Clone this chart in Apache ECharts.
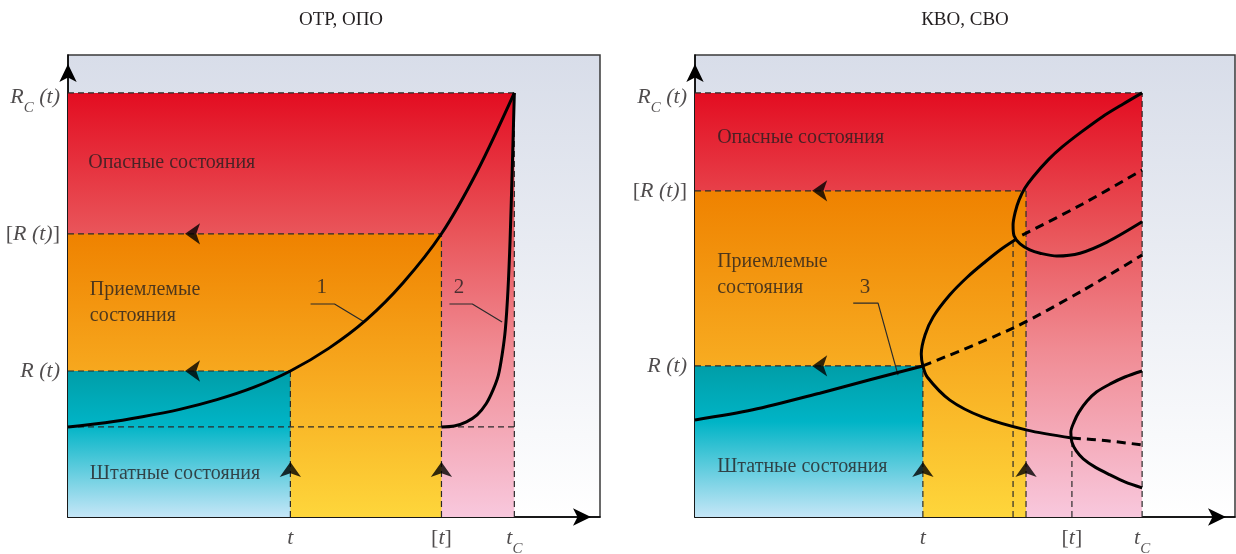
<!DOCTYPE html>
<html>
<head>
<meta charset="utf-8">
<script src="https://cdn.jsdelivr.net/npm/echarts@6/dist/echarts.min.js"></script>
<style>
  html, body { margin: 0; padding: 0; background: #fff; }
  #chart { width: 1236px; height: 554px; }
</style>
</head>
<body>
<div id="chart"></div>
<script>
const titles = ['ОТР, ОПО', 'КВО, СВО']

// levels on the R axis: R_C(t), [R(t)], R(t), start level
const levelsLeft = [91.8, 61.3, 31.6, 19.5]
const levelsRight = [91.8, 70.6, 32.7]
// moments: t, [t], t_C
const timesLeft = [41.8, 70.2, 83.9]
// t, fold, fold edge, [t], t_C
const timesRight = [42.2, 58.9, 61.3, 69.8, 82.8]

// left panel curves
const curve1 = [[0, 19.5], [7, 20.4], [14, 21.7], [21, 23.3], [28, 25.4], [35, 28.1], [41.8, 31.6], [49, 36.5], [56, 42.6], [63, 50.7], [70.2, 61.3], [77, 75], [83.9, 91.8]]
const curve2 = [[70.2, 19.5], [72.6, 19.7], [74.9, 20.6], [76.9, 22.1], [78.6, 24.5], [79.9, 27.5], [80.9, 30.7], [81.6, 35.1], [82.2, 40.5], [82.7, 49.1], [83.1, 60], [83.5, 75.1], [83.9, 91.8]]

// right panel curves
const curve3 = [[0, 21], [10.7, 23.2], [23.1, 26.8], [32.4, 29.7], [42.2, 32.7]]
const fold1 = [[69.8, 17.1], [61.5, 18.8], [53.3, 21.6], [47.2, 25.3], [43, 30.3], [42.2, 32.7], [41.9, 35.3], [42.6, 39.4], [44.1, 43.3], [47.2, 48.1], [50.4, 51.9], [53.7, 55.2], [56.5, 57.8], [59.3, 60]]
const fold2 = [[82.8, 91.8], [79.3, 89.4], [75.4, 86.6], [71.5, 83.3], [68, 80.1], [65.4, 77.3], [62.6, 73.6], [61.1, 71.2], [60, 68.6], [59.3, 66], [58.9, 63.2], [59.1, 60.8], [60.2, 59.1], [62, 57.8], [63.9, 57.1], [67, 56.5], [71.3, 57.1], [76.3, 59.5], [82.8, 63.9]]
const fold3 = [[82.8, 31.6], [79.6, 30.3], [76.9, 28.8], [74.4, 27.1], [72.6, 25.1], [71.1, 22.7], [70.2, 20.6], [69.6, 18.4], [69.8, 16.2], [70.6, 14.3], [71.9, 12.6], [74.1, 10.8], [76.9, 9.1], [79.6, 7.6], [82.8, 6.3]]
const unstable1 = [[42.2, 32.7], [58.9, 40.9], [71.9, 49.1], [82.8, 56.7]]
const unstable2 = [[60.6, 61], [71.7, 67.7], [82.8, 75.1]]
const unstable3 = [[69.8, 17.1], [76.3, 16.5], [82.8, 15.6]]

// callouts 1, 2, 3
const lead1 = [[45.6, 46.1], [50.1, 46.1], [55.7, 42.2]]
const lead2 = [[71.7, 46.1], [76, 46.1], [81.6, 42.2]]
const lead3 = [[29.3, 46.3], [33.9, 46.3], [37.6, 30.7]]
const calloutsLeft = [['1', 47.7, 49.6], ['2', 73.5, 49.6]]
const calloutsRight = [['3', 31.5, 49.6]]

const zoneNames = ['Опасные состояния', 'Приемлемые\nсостояния', 'Штатные состояния']
const zoneTextLeft = [[3.8, 76.6], [4.1, 46.3], [4.1, 9.3]]
const zoneTextRight = [[4.1, 82], [4.1, 52.4], [4.1, 10.8]]

const yLabels = ['{i|R}{s|C}{i| (t)}', '{r|[}{i|R (t)}{r|]}', '{i|R (t)}']
const xLabels = ['{i|t}', '{r|[}{i|t}{r|]}', '{i|t}{s|C}']

const G = echarts.graphic
const serif = 'Liberation Serif'
const ink = '#231f20'

const fills = [
  new G.LinearGradient(0, 0, 0, 1, [
    { offset: 0, color: '#e30d21' }, { offset: 0.33, color: '#e9555a' },
    { offset: 0.6, color: '#f08a92' }, { offset: 1, color: '#f8c8dd' }]),
  new G.LinearGradient(0, 0, 0, 1, [
    { offset: 0, color: '#ef8200' }, { offset: 0.5, color: '#f7a91f' }, { offset: 1, color: '#fed63b' }]),
  new G.LinearGradient(0, 0, 0, 1, [
    { offset: 0, color: '#009ea8' }, { offset: 0.37, color: '#00b4c6' }, { offset: 1, color: '#c5e6f7' }])
]

const rich = {
  i: { fontFamily: serif, fontStyle: 'italic', fontSize: 22, color: ink },
  r: { fontFamily: serif, fontSize: 22, color: ink },
  s: { fontFamily: serif, fontStyle: 'italic', fontSize: 15, color: ink, padding: [22, 0, 0, 0] }
}

function base (g) {
  return { xAxisIndex: g, yAxisIndex: g, silent: true, animation: false }
}

function curve (g, data, dashed) {
  return Object.assign(base(g), {
    type: 'line', data, symbol: 'none', smooth: 0.3, z: 5,
    lineStyle: { color: '#000', width: 3, type: dashed ? [9, 6] : 'solid' }
  })
}

function thin (g, data, dashed) {
  return Object.assign(base(g), {
    type: 'line', data, symbol: 'none', z: 4,
    lineStyle: { color: '#2b2b2b', width: 1.2, type: dashed ? [6, 4] : 'solid' }
  })
}

function zones (g, rects) {
  return Object.assign(base(g), {
    type: 'custom', z: 1, data: rects,
    renderItem: (params, api) => {
      const a = api.coord([api.value(0), api.value(3)])
      const b = api.coord([api.value(1), api.value(2)])
      return { type: 'rect', shape: { x: a[0], y: a[1], width: b[0] - a[0], height: b[1] - a[1] }, style: { fill: fills[api.value(4)] } }
    }
  })
}

function arrows (g, pts, rotate) {
  return Object.assign(base(g), {
    type: 'scatter', data: pts, symbol: 'arrow', symbolSize: [16, 15], symbolRotate: rotate,
    itemStyle: { color: '#000' }, z: 6
  })
}

// items: [text, x, y, optional label offset]
function texts (g, items, label) {
  return Object.assign(base(g), {
    type: 'scatter', symbolSize: 0, clip: false, z: 7,
    data: items.map(d => ({ name: d[0], value: [d[1], d[2]], label: d[3] ? { offset: d[3] } : undefined })),
    label: Object.assign({ show: true, formatter: p => p.name, color: ink, fontFamily: serif, rich }, label)
  })
}

const [RcL, RaL, RL, R0L] = levelsLeft
const [tL, taL, tcL] = timesLeft
const [RcR, RaR, RR] = levelsRight
const [tR, f1R, f2R, taR, tcR] = timesRight

const dashedLeft = [
  [[0, RcL], [tcL, RcL]], [[0, RaL], [taL, RaL]], [[0, RL], [tL, RL]], [[0, R0L], [tcL, R0L]],
  [[tL, 0], [tL, RL]], [[taL, 0], [taL, RaL]], [[tcL, 0], [tcL, RcL]]
]
const dashedRight = [
  [[0, RcR], [tcR, RcR]], [[0, RaR], [f2R, RaR]], [[0, RR], [tR, RR]],
  [[tR, 0], [tR, RR]], [[f1R, 0], [f1R, 60]], [[f2R, 0], [f2R, RaR]],
  [[taR, 0], [taR, 17.3]], [[tcR, 0], [tcR, RcR]]
]

// the subscripted labels sit a little off the others
const yOffsets = [[0, 4], null, null]
const xOffsets = [null, null, [0, -7]]

const series = [
  zones(0, [[0, tcL, 0, RcL, 0], [0, taL, 0, RaL, 1], [0, tL, 0, RL, 2]]),
  zones(1, [[0, tcR, 0, RcR, 0], [0, f2R, 0, RaR, 1], [0, tR, 0, RR, 2]]),
  ...dashedLeft.map(d => thin(0, d, true)),
  ...dashedRight.map(d => thin(1, d, true)),
  curve(0, curve1), curve(0, curve2),
  curve(1, curve3), curve(1, fold1), curve(1, fold2), curve(1, fold3),
  curve(1, unstable1, true), curve(1, unstable2, true), curve(1, unstable3, true),
  thin(0, lead1), thin(0, lead2), thin(1, lead3),
  arrows(0, [[22, RaL], [22, RL]], 90), arrows(0, [[tL, 11.9], [taL, 11.9]], 0),
  arrows(1, [[21.7, RaR], [21.7, RR]], 90), arrows(1, [[tR, 11.9], [f2R, 11.9]], 0),
  texts(0, calloutsLeft, { position: 'inside', fontSize: 21 }),
  texts(1, calloutsRight, { position: 'inside', fontSize: 21 }),
  texts(0, zoneNames.map((n, i) => [n, ...zoneTextLeft[i]]), { position: 'right', distance: 0, fontSize: 20, lineHeight: 26 }),
  texts(1, zoneNames.map((n, i) => [n, ...zoneTextRight[i]]), { position: 'right', distance: 0, fontSize: 20, lineHeight: 26 }),
  texts(0, yLabels.map((n, i) => [n, 0, levelsLeft[i], yOffsets[i]]), { position: 'left', distance: 8 }),
  texts(1, yLabels.map((n, i) => [n, 0, levelsRight[i], yOffsets[i]]), { position: 'left', distance: 8 }),
  texts(0, xLabels.map((n, i) => [n, timesLeft[i], 0, xOffsets[i]]), { position: 'bottom', distance: 10 }),
  texts(1, xLabels.map((n, i) => [n, [tR, taR, tcR][i], 0, xOffsets[i]]), { position: 'bottom', distance: 10 })
]

const bg = new G.LinearGradient(0, 0, 0, 1, [{ offset: 0, color: '#d8dde9' }, { offset: 1, color: '#ffffff' }])

function axis () {
  return {
    type: 'value', min: 0, max: 100,
    axisLine: { show: true, symbol: ['none', 'arrow'], symbolSize: [13, 18], symbolOffset: [0, -9], lineStyle: { color: '#000', width: 1.5 } },
    axisTick: { show: false }, axisLabel: { show: false }, splitLine: { show: false }
  }
}

const option = {
  animation: false,
  title: titles.map((t, i) => ({
    text: t, left: [336, 960][i], top: 6, textAlign: 'center',
    textStyle: { fontFamily: serif, fontWeight: 'normal', fontSize: 19, color: ink }
  })),
  grid: [
    { left: 68, top: 55, width: 532, height: 462, show: true, backgroundColor: bg, borderColor: '#3a3a3a', borderWidth: 1.5 },
    { left: 695, top: 55, width: 540, height: 462, show: true, backgroundColor: bg, borderColor: '#3a3a3a', borderWidth: 1.5 }
  ],
  xAxis: [Object.assign(axis(), { gridIndex: 0 }), Object.assign(axis(), { gridIndex: 1 })],
  yAxis: [Object.assign(axis(), { gridIndex: 0 }), Object.assign(axis(), { gridIndex: 1 })],
  series
}

const myChart = echarts.init(document.getElementById('chart'))
myChart.setOption(option)
window.addEventListener('resize', () => myChart.resize())
</script>
</body>
</html>
